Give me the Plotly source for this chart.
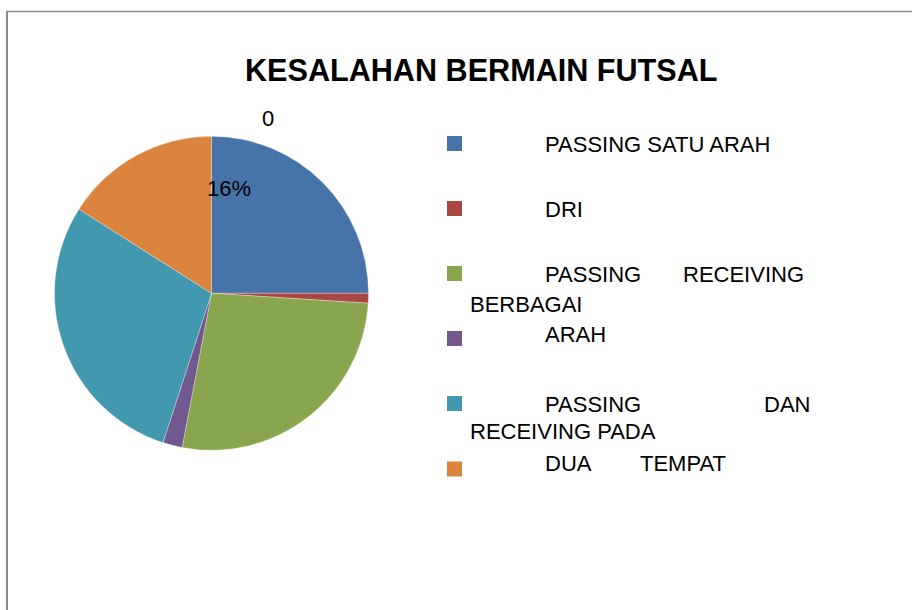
import plotly.graph_objects as go

# ---- data ----
categories = [
    "PASSING SATU ARAH",
    "DRI",
    "PASSING RECEIVING BERBAGAI",
    "ARAH",
    "PASSING DAN RECEIVING PADA",
    "DUA TEMPAT",
]
values = [25, 1, 27, 2, 29, 16]
colors = ["#4674A9", "#AA4643", "#89A54E", "#71588F", "#4198AF", "#DB843D"]
chart_title = "KESALAHAN BERMAIN FUTSAL"
extra_label = "0"

W, H = 912, 610
FONT = "Liberation Sans, Arial, sans-serif"
FS = 22
PAD = 2.5  # annotation inner padding compensation


def fx(x):
    return x / W


def fy(y):
    return 1 - y / H


cx, cy, r = 211.5, 293.3, 157.0

fig = go.Figure(
    go.Pie(
        labels=categories,
        values=values,
        sort=False,
        direction="clockwise",
        rotation=0,
        marker=dict(colors=colors, line=dict(color="rgba(255,255,255,0.6)", width=0.5)),
        textinfo="none",
        hoverinfo="label+percent",
        showlegend=False,
        domain=dict(x=[fx(cx - r), fx(cx + r)], y=[fy(cy + r), fy(cy - r)]),
    )
)

ann = []
# title
ann.append(dict(text="<b>%s</b>" % chart_title, x=fx(481), y=fy(70), xref="paper", yref="paper",
                xanchor="center", yanchor="middle", showarrow=False,
                font=dict(family=FONT, size=30.6, color="black")))
# data labels
total = sum(values)
pct_orange = "%d%%" % round(values[5] / total * 100)
ann.append(dict(text=extra_label, x=fx(267.5), y=fy(118), xref="paper", yref="paper",
                xanchor="center", yanchor="middle", showarrow=False,
                font=dict(family=FONT, size=FS, color="black")))
ann.append(dict(text=pct_orange, x=fx(228.7), y=fy(189), xref="paper", yref="paper",
                xanchor="center", yanchor="middle", showarrow=False,
                font=dict(family=FONT, size=FS, color="black")))

# legend (justified text layout as in the original)
w = [c.split() for c in categories]
legend_pieces = [
    (categories[0], 545, 145, "left"),
    (categories[1], 545, 209.5, "left"),
    (w[2][0], 545, 274.5, "left"),
    (w[2][1], 803, 274.5, "right"),
    (w[2][2], 470, 304, "left"),
    (categories[3], 545, 334, "left"),
    (w[4][0], 545, 404.5, "left"),
    (w[4][1], 809, 404.5, "right"),
    (" ".join(w[4][2:]), 470, 431, "left"),
    (w[5][0], 545, 463, "left"),
    (w[5][1], 640, 463, "left"),
]
for t, x, y, a in legend_pieces:
    xx = x - PAD if a == "left" else x + PAD
    ann.append(dict(text=t, x=fx(xx), y=fy(y), xref="paper", yref="paper",
                    xanchor=a, yanchor="middle", showarrow=False,
                    font=dict(family=FONT, size=FS, color="black")))

shapes = []
marker_y = [143.5, 208.5, 273.5, 338.5, 403.5, 469]
for col, my in zip(colors, marker_y):
    shapes.append(dict(type="rect", xref="paper", yref="paper",
                       x0=fx(447), x1=fx(462), y0=fy(my + 7.5), y1=fy(my - 7.5),
                       fillcolor=col, line=dict(width=0)))
# chart frame
shapes.append(dict(type="line", xref="paper", yref="paper", x0=fx(7), x1=fx(7), y0=fy(11.5), y1=fy(615),
                   line=dict(color="#8A8A8A", width=2)))
shapes.append(dict(type="line", xref="paper", yref="paper", x0=fx(6), x1=fx(915), y0=fy(11.5), y1=fy(11.5),
                   line=dict(color="#8A8A8A", width=1.5)))

fig.update_layout(
    width=W, height=H,
    margin=dict(l=0, r=0, t=0, b=0),
    paper_bgcolor="white", plot_bgcolor="white",
    annotations=ann, shapes=shapes,
    showlegend=False,
)

fig.write_html("out.html")
